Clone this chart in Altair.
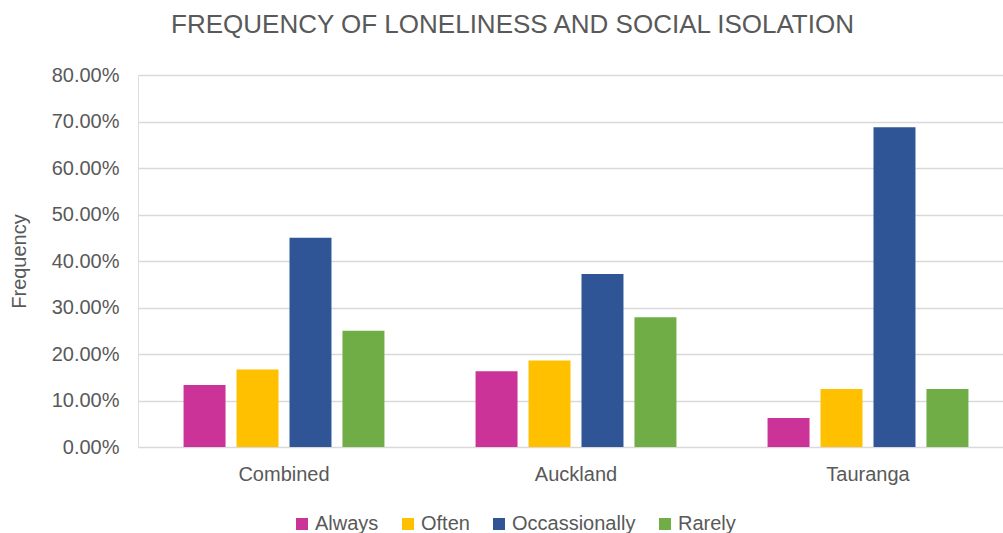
import altair as alt
import pandas as pd

# Survey responses by location (share of respondents)
categories = ["Combined", "Auckland", "Tauranga"]
series = ["Always", "Often", "Occassionally", "Rarely"]
always = [0.1333, 0.1628, 0.0625]
often = [0.1667, 0.1860, 0.125]
occasionally = [0.45, 0.3721, 0.6875]
rarely = [0.25, 0.2791, 0.125]
colors = ["#CC3399", "#FFC000", "#2F5597", "#70AD47"]
y_ticks = [0, 0.1, 0.2, 0.3, 0.4, 0.5, 0.6, 0.7, 0.8]

rows = []
for name, vals in zip(series, [always, often, occasionally, rarely]):
    for cat, v in zip(categories, vals):
        rows.append({"Location": cat, "Response": name, "Frequency": v})
df = pd.DataFrame(rows)

font = "Liberation Sans"
grey = "#595959"

chart = (
    alt.Chart(df)
    .mark_bar()
    .encode(
        x=alt.X(
            "Location:N",
            sort=categories,
            scale=alt.Scale(range=[0, 876], paddingInner=0.312, paddingOuter=0.156),
            axis=alt.Axis(
                title=None,
                labelAngle=0,
                ticks=False,
                domain=False,
                labelFontSize=20,
                labelColor=grey,
                labelFont=font,
                labelPadding=17,
            ),
        ),
        xOffset=alt.XOffset(
            "Response:N",
            sort=series,
            scale=alt.Scale(paddingInner=0.2075, paddingOuter=0),
        ),
        y=alt.Y(
            "Frequency:Q",
            scale=alt.Scale(domain=[0, 0.8], nice=False),
            axis=alt.Axis(
                title="Frequency",
                values=y_ticks,
                format=".2%",
                ticks=False,
                domain=False,
                labelFontSize=20,
                labelColor=grey,
                labelFont=font,
                labelPadding=19,
                titleFontSize=20,
                titleFont=font,
                titleColor=grey,
                titleFontWeight="normal",
                titlePadding=22,
                gridColor="#d9d9d9",
                gridWidth=1.3,
            ),
        ),
        color=alt.Color(
            "Response:N",
            sort=series,
            scale=alt.Scale(domain=series, range=colors),
            legend=alt.Legend(
                title=None,
                orient="none",
                legendX=154,
                legendY=439,
                direction="horizontal",
                columns=4,
                symbolType="square",
                symbolSize=144,
                symbolStrokeWidth=0,
                labelFontSize=20,
                labelFont=font,
                labelColor=grey,
                labelOffset=3,
                columnPadding=19,
            ),
        ),
    )
    .properties(
        width=865,
        height=372,
        padding={"left": 138, "top": 75, "right": 0, "bottom": 86},
        autosize=alt.AutoSizeParams(type="none"),
        title=alt.TitleParams(
            "FREQUENCY OF LONELINESS AND SOCIAL ISOLATION",
            fontSize=26,
            font=font,
            color=grey,
            fontWeight="normal",
            anchor="middle",
            dx=-58,
            offset=27,
        ),
    )
    .configure_view(stroke=None)
    .configure(background="white")
)

chart.save("out.html", embed_options={"renderer": "svg", "actions": False})
